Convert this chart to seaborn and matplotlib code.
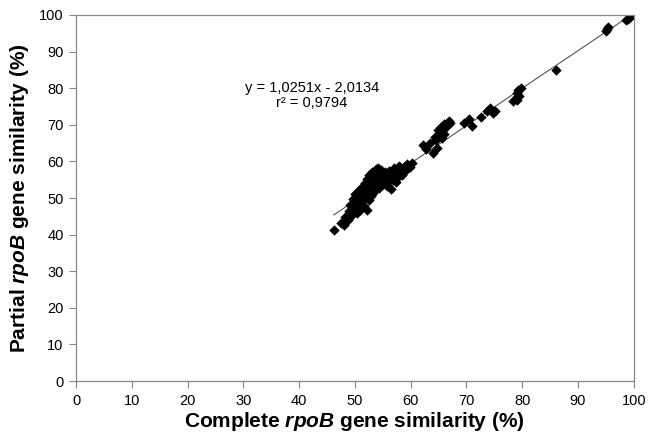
import matplotlib
matplotlib.use("Agg")
import matplotlib.pyplot as plt
import seaborn as sns
import numpy as np
import pandas as pd

# complete vs partial rpoB similarity (%)
complete_sim = [46.2, 47.5, 48.0, 48.3, 48.8, 49.0, 49.2, 49.4, 49.6, 49.7,
                49.9, 50.0, 50.1, 50.3, 50.4, 50.5, 50.7, 50.8, 50.9, 51.0,
                51.2, 51.3, 51.5, 51.6, 51.8, 51.9, 52.0, 52.1, 52.2, 52.3,
                52.4, 52.5, 52.6, 52.7, 52.8, 52.9, 53.0, 53.1, 53.2, 53.3,
                53.4, 53.5, 53.6, 53.7, 53.8, 53.9, 54.0, 54.1, 54.2, 54.3,
                54.4, 54.5, 54.6, 54.7, 54.9, 55.0, 55.1, 55.3, 55.4, 55.6,
                55.7, 55.9, 56.0, 56.2, 56.3, 56.5, 56.7, 56.9, 57.0, 57.2,
                57.4, 57.6, 57.8, 58.0, 58.2, 58.5, 58.8, 59.1, 59.4, 59.8,
                60.3, 62.3, 62.8, 63.5, 64.0, 64.3, 64.6, 64.9, 65.2, 65.4,
                65.7, 65.9, 66.2, 66.5, 66.8, 67.1, 64.8, 66.0, 69.6, 70.4,
                71.0, 72.7, 73.6, 74.8, 75.2, 74.2, 78.4, 78.8, 79.0, 79.3,
                79.5, 79.7, 79.1, 86.0, 95.0, 95.2, 95.4, 98.6, 99.0, 99.3]
partial_sim = [41.2, 43.3, 42.6, 44.8, 43.9, 46.5, 48.2, 45.3, 47.4, 49.6,
               46.2, 48.6, 51.0, 47.1, 45.8, 49.5, 52.3, 48.0, 46.6, 50.4,
               53.0, 49.2, 51.6, 47.8, 54.1, 50.7, 52.5, 46.7, 55.3, 51.2,
               53.6, 49.4, 56.2, 52.0, 54.7, 50.5, 57.0, 53.4, 55.6, 51.4,
               56.6, 54.2, 52.3, 57.8, 55.1, 53.0, 56.2, 54.0, 58.3, 55.5,
               52.6, 56.9, 54.6, 57.6, 55.8, 53.8, 56.4, 54.9, 57.2, 55.3,
               53.2, 56.1, 54.5, 57.5, 55.6, 52.4, 56.8, 55.0, 58.2, 56.3,
               54.4, 57.4, 55.8, 58.8, 57.0, 56.2, 58.4, 57.6, 59.2, 58.5,
               59.6, 64.5, 63.3, 65.0, 62.4, 66.8, 65.8, 68.6, 67.2, 69.5,
               66.3, 70.1, 69.0, 70.6, 71.0, 70.4, 63.6, 67.5, 70.5, 71.5,
               69.6, 72.0, 73.7, 73.2, 73.8, 74.5, 76.4, 77.2, 78.6, 79.5,
               77.8, 80.1, 76.9, 85.1, 95.6, 96.2, 96.7, 98.6, 99.0, 99.5]

slope = 1.0251
intercept = -2.0134
r_squared = "0,9794"

df = pd.DataFrame({'complete': complete_sim, 'partial': partial_sim})

sns.set_style('white')
plt.rcParams['font.family'] = ['Liberation Sans', 'DejaVu Sans']
plt.rcParams['text.color'] = 'black'
plt.rcParams['axes.labelcolor'] = 'black'
plt.rcParams['mathtext.fontset'] = 'custom'
plt.rcParams['mathtext.rm'] = 'Liberation Sans'
plt.rcParams['mathtext.bfit'] = 'Liberation Sans:bold:italic'

fig = plt.figure(figsize=(6.48, 4.41), dpi=100)
ax = fig.add_axes([0.1173, 0.136, 0.8607, 0.830])

# trend line
xs = np.array([min(complete_sim), 100])
ax.plot(xs, slope * xs + intercept, color='#555555', linewidth=0.8, zorder=1)

sns.scatterplot(data=df, x='complete', y='partial', marker='D', color='black',
                s=28, edgecolor='black', linewidth=0, ax=ax, zorder=2)

ax.set_xlim(0, 100)
ax.set_ylim(0, 100)
ax.set_xticks(range(0, 101, 10))
ax.set_yticks(range(0, 101, 10))
ax.tick_params(axis='both', bottom=True, left=True, direction='out', length=5,
               width=0.8, color='#888888', labelsize=10.5, labelcolor='black', pad=4)
for sp in ax.spines.values():
    sp.set_color('#888888')
    sp.set_linewidth(0.9)

ax.set_xlabel(r'Complete $\mathbfit{rpoB}$ gene similarity (%)',
              fontsize=15, fontweight='bold', labelpad=2)
ax.set_ylabel(r'Partial $\mathbfit{rpoB}$ gene similarity (%)',
              fontsize=15, fontweight='bold', labelpad=6)

ax.text(42.3, 78, f"y = 1,0251x - 2,0134\nr² = {r_squared}", ha='center', va='center',
        fontsize=10.5, linespacing=1.1)

fig.savefig('out.png', dpi=100)
